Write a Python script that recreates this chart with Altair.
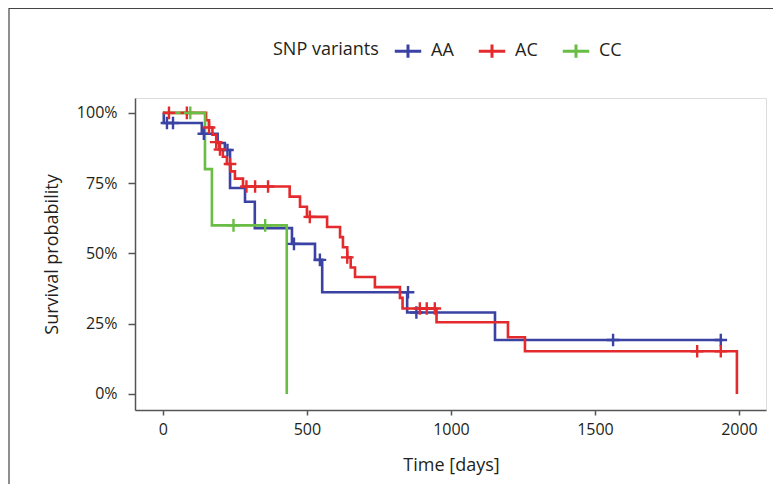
import altair as alt
import pandas as pd

# Kaplan-Meier step curves (time in days, survival in %)
groups = ["AA", "AC", "CC"]
colors = ["#3a43a3", "#e42a2c", "#69bd45"]

aa_t = [0, 3, 135, 190, 215, 233, 285, 319, 448, 528, 553, 848, 1153, 1944]
aa_s = [100, 96.4, 92.6, 89.3, 86.8, 73.3, 68.4, 59.0, 53.4, 47.7, 36.2, 29.0, 19.2, 19.2]

ac_t = [0, 150, 160, 172, 185, 195, 208, 222, 235, 250, 278, 440, 476, 500, 570,
        615, 625, 640, 652, 667, 736, 823, 832, 950, 1198, 1257, 1993, 1993]
ac_s = [100, 97.4, 94.8, 92.2, 89.6, 87.0, 84.4, 81.8, 79.2, 76.6, 73.8, 70.2, 66.6, 63.0, 59.4,
        55.8, 52.2, 48.6, 45.0, 41.6, 38.0, 34.2, 30.4, 25.5, 20.2, 15.2, 15.2, 0]

cc_t = [0, 146, 170, 430, 430]
cc_s = [100, 80, 60, 60, 0]

# censoring marks
aa_ct = [14, 35, 142, 224, 455, 545, 851, 880, 1563, 1937]
aa_cs = [96.4, 96.4, 92.6, 86.8, 53.4, 47.7, 36.2, 29.0, 19.2, 19.2]
ac_ct = [21, 83, 160, 185, 198, 233, 290, 320, 365, 510, 640, 892, 916, 944, 1855, 1937]
ac_cs = [100, 100, 94.8, 89.6, 87.0, 81.8, 73.8, 73.8, 73.8, 63.0, 48.6, 30.4, 30.4, 30.4, 15.2, 15.2]
cc_ct = [95, 245, 355]
cc_cs = [100, 60, 60]

x_ticks = [0, 500, 1000, 1500, 2000]
y_ticks = [0, 25, 50, 75, 100]

rows = []
for g, ts, ss in [("AA", aa_t, aa_s), ("AC", ac_t, ac_s), ("CC", cc_t, cc_s)]:
    for i, (t, s) in enumerate(zip(ts, ss)):
        rows.append({"group": g, "time": t, "surv": s, "order": i})
curves = pd.DataFrame(rows)

crow = []
for g, ts, ss in [("AA", aa_ct, aa_cs), ("AC", ac_ct, ac_cs), ("CC", cc_ct, cc_cs)]:
    for t, s in zip(ts, ss):
        crow.append({"group": g, "time": t, "surv": s})
cens = pd.DataFrame(crow)

FONT = "Open Sans"
TXT = "#231f20"

xscale = alt.Scale(domain=[-97, 2094], nice=False, zero=False)
yscale = alt.Scale(domain=[-5.7, 105.3], nice=False, zero=False)

color = alt.Color(
    "group:N",
    scale=alt.Scale(domain=groups, range=colors),
    legend=alt.Legend(
        title="SNP variants",
        orient="none",
        direction="horizontal",
        legendX=138,
        legendY=-62,
        titleOrient="left",
        titleFontSize=18,
        titleFont=FONT,
        titleFontWeight="normal",
        titleColor=TXT,
        titlePadding=14,
        titleBaseline="middle",
        labelFontSize=18,
        labelFont=FONT,
        labelColor=TXT,
        labelOffset=8,
        columnPadding=18,
        symbolType="M-1,0H1M0,-0.5V0.5",
        symbolSize=700,
        symbolStrokeWidth=3,
        symbolFillColor="transparent",
        padding=0,
    ),
)

xaxis = alt.Axis(
    values=x_ticks, title="Time [days]", grid=False, format="d",
    labelFontSize=16, labelFont=FONT, labelColor=TXT, labelPadding=6,
    titleFontSize=18, titleFont=FONT, titleFontWeight="normal", titleColor=TXT,
    titleX=316, titleY=55, titleBaseline="middle",
    domainColor="#555555", domainWidth=1.5, tickColor="#555555", tickSize=5, tickWidth=1.5,
)
yaxis = alt.Axis(
    values=y_ticks, title="Survival probability", grid=False,
    labelExpr="datum.value + '%'",
    labelFontSize=16, labelFont=FONT, labelColor=TXT, labelPadding=11,
    titleFontSize=18, titleFont=FONT, titleFontWeight="normal", titleColor=TXT,
    titleX=-83, titleY=156, titleBaseline="middle", titleAngle=270, titleAlign="center",
    domainColor="#555555", domainWidth=1.5, tickColor="#555555", tickSize=7, tickWidth=1.5,
)

lines = alt.Chart(curves).mark_line(interpolate="step-after", strokeWidth=2.6).encode(
    x=alt.X("time:Q", scale=xscale, axis=xaxis),
    y=alt.Y("surv:Q", scale=yscale, axis=yaxis),
    color=color,
    order="order:Q",
)

marks = alt.Chart(cens).mark_point(
    shape="M-1,0H1M0,-1V1", filled=False, size=160, strokeWidth=2.4, opacity=1
).encode(
    x=alt.X("time:Q", scale=xscale),
    y=alt.Y("surv:Q", scale=yscale),
    color=color,
)

border_top = alt.Chart(pd.DataFrame({"a": [0]})).mark_rule(color="#444444", strokeWidth=1.2).encode(
    x=alt.value(-126), x2=alt.value(700), y=alt.value(-89.5)
)
border_left = alt.Chart(pd.DataFrame({"a": [0]})).mark_rule(color="#444444", strokeWidth=1.2).encode(
    x=alt.value(-126), y=alt.value(-90), y2=alt.value(400)
)

chart = alt.layer(lines, marks, border_top, border_left).properties(
    width=631, height=312,
    autosize=alt.AutoSizeParams(type="none"),
    padding={"left": 127, "top": 90, "right": 7, "bottom": 74},
).configure_view(stroke=None).configure(background="white")

chart.save("out.html", embed_options={"renderer": "svg", "actions": False})
